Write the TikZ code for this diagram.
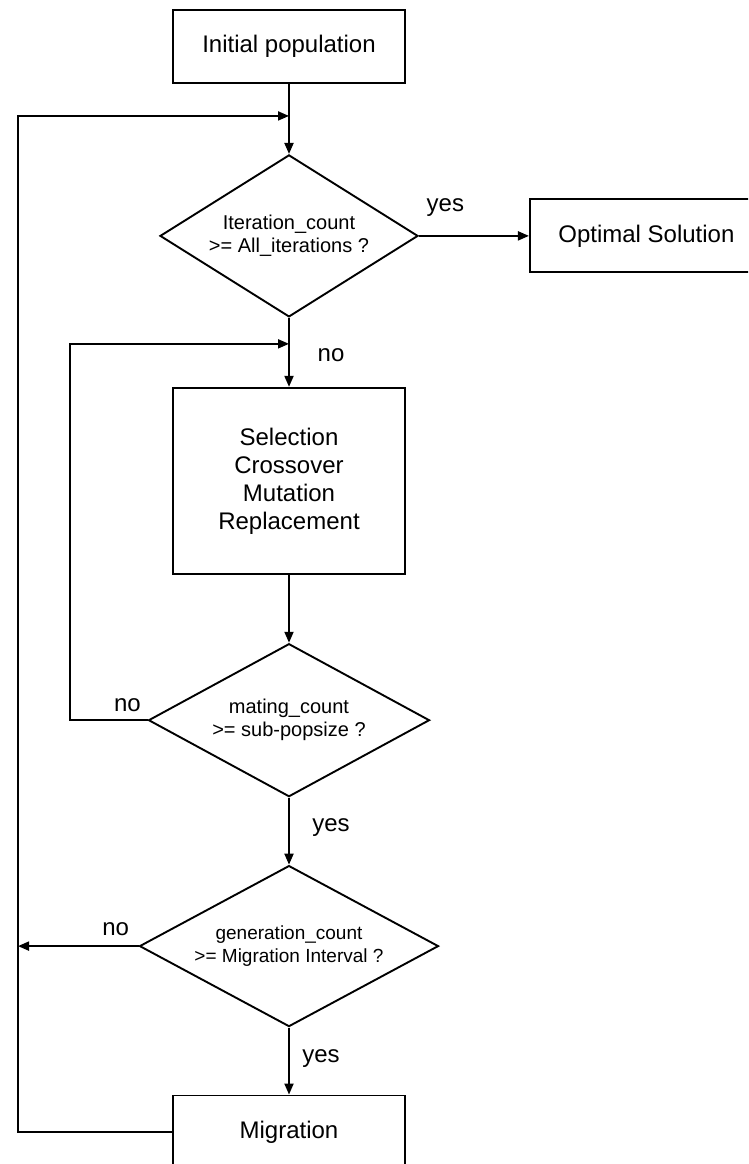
\documentclass[tikz,border=0pt]{standalone}
\usepackage{fontspec}
\setmainfont{Liberation Sans}
\usetikzlibrary{shapes.geometric, arrows.meta, positioning}

\begin{document}
\begin{tikzpicture}[
  x=1pt, y=1pt,
  node distance=68pt and 110pt,
  box/.style={draw, line width=1.9pt, minimum width=232pt, minimum height=73pt,
    align=center, font=\fontsize{24}{28}\selectfont},
  test/.style={draw, diamond, line width=1.9pt, inner sep=0pt, align=center,
    font=\fontsize{20}{23}\selectfont},
  lbl/.style={font=\fontsize{24}{28}\selectfont, inner sep=0pt},
  arr/.style={-{Triangle[length=11pt,width=9pt]}, line width=1.9pt}
]
  \clip (0,0) rectangle (748,-1164);
  \node[box] (init) at (289,-46.5) {Initial population};
  \node[test, below=70pt of init, aspect=1.6, minimum width=258pt, minimum height=162pt] (iter) {Iteration\_count\\>= All\_iterations ?};
  \node[box, right=of iter, minimum width=233pt] (opt) {Optimal Solution};
  \node[box, below=69pt of iter, minimum height=186pt] (ops) {Selection\\Crossover\\Mutation\\Replacement};
  \node[test, below=of ops, aspect=1.84, minimum width=281pt, minimum height=153pt] (mate) {mating\_count\\>= sub-popsize ?};
  \node[test, below=67pt of mate, aspect=1.86, minimum width=299pt, minimum height=161pt,
    font=\fontsize{19}{23}\selectfont] (gen) {generation\_count\\>= Migration Interval ?};
  \node[box, below=67pt of gen] (migr) {Migration};

  % junctions of the two loops and the left rail
  \coordinate (j1) at ([yshift=-32pt]init.south);
  \coordinate (j2) at ([yshift=-26pt]iter.south);
  \coordinate (rail) at (18,0);

  \draw[arr] (init) -- (iter);
  \draw[arr] (iter) -- node[lbl, pos=0.24, yshift=28pt]{yes} (opt);
  \draw[arr] (iter.south) -- node[lbl, pos=0.535, xshift=42pt]{no} (ops.north);
  \draw[arr] (ops) -- (mate);
  \draw[arr] (mate) -- node[lbl, pos=0.45, xshift=42pt]{yes} (gen);
  \draw[arr] (gen) -- node[lbl, pos=0.46, xshift=32pt]{yes} (migr);
  \draw[arr] (mate.west) -- node[lbl, pos=0.26, yshift=15pt]{no} ++(-77.4,0) |- (j2);
  \draw[arr] (gen.west) -- node[lbl, pos=0.19, yshift=17pt]{no} (gen.west -| rail);
  \draw[arr] (migr.west) -- (migr.west -| rail) |- (j1);
\end{tikzpicture}
\end{document}
